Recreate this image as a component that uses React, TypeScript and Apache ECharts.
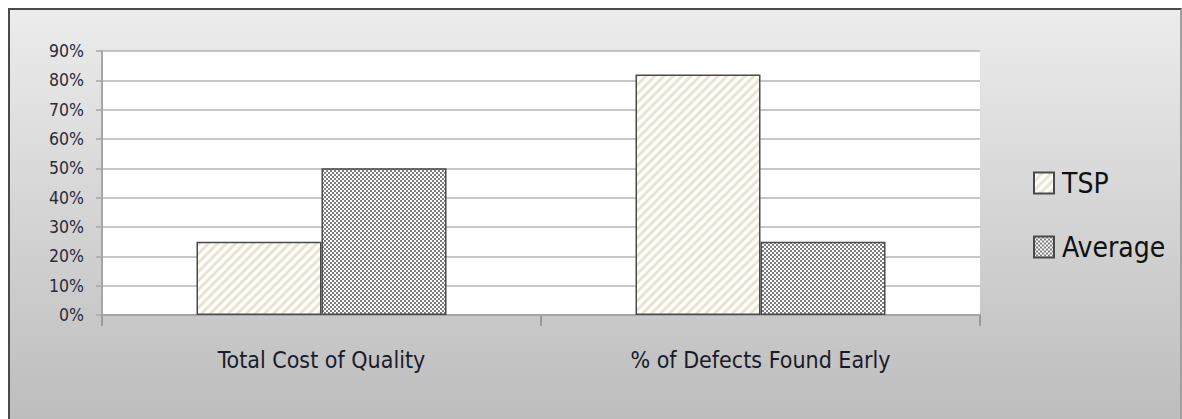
import React, { useEffect, useRef } from "react";
import * as echarts from "echarts";

const categories = ["Total Cost of Quality", "% of Defects Found Early"];
const seriesNames = ["TSP", "Average"];
const tspValues = [25, 82];
const averageValues = [50, 25];
const yMax = 90;
const yInterval = 10;

const FONT = "'Liberation Sans Narrow', 'DejaVu Sans Condensed', 'Arial Narrow', sans-serif";

function makeHatch(): HTMLCanvasElement {
  const c = document.createElement("canvas");
  const s = 9;
  c.width = s;
  c.height = s;
  const ctx = c.getContext("2d")!;
  ctx.fillStyle = "#ffffff";
  ctx.fillRect(0, 0, s, s);
  ctx.strokeStyle = "#e8e4d0";
  ctx.lineWidth = 3;
  for (const off of [-s, 0, s]) {
    ctx.beginPath();
    ctx.moveTo(off - 1, s + 1);
    ctx.lineTo(off + s + 1, -1);
    ctx.stroke();
  }
  return c;
}

function makeChecker(): HTMLCanvasElement {
  const c = document.createElement("canvas");
  c.width = 4;
  c.height = 4;
  const ctx = c.getContext("2d")!;
  ctx.fillStyle = "#ffffff";
  ctx.fillRect(0, 0, 4, 4);
  ctx.fillStyle = "#7c7c7c";
  ctx.fillRect(0, 0, 2, 2);
  ctx.fillRect(2, 2, 2, 2);
  return c;
}

export default function App() {
  const ref = useRef<HTMLDivElement>(null);
  useEffect(() => {
    if (!ref.current) return;
    const chart = echarts.init(ref.current, null, { renderer: "svg" });
    const hatch = makeHatch();
    const checker = makeChecker();
    chart.setOption({
      animation: false,
      backgroundColor: "transparent",
      grid: {
        left: 92,
        top: 41,
        right: 200,
        bottom: 104,
        show: true,
        backgroundColor: "#ffffff",
        borderWidth: 0,
      },
      legend: {
        orient: "vertical",
        left: 1023,
        top: 157,
        padding: 0,
        itemWidth: 20,
        itemHeight: 21,
        itemGap: 32,
        icon: "rect",
        textStyle: {
          fontFamily: FONT,
          fontSize: 28,
          color: "#111111",
          lineHeight: 32,
          padding: [0, 0, 0, 3],
        },
        data: seriesNames,
      },
      xAxis: {
        type: "category",
        data: categories,
        axisLine: { show: true, lineStyle: { color: "#a6a6a6", width: 2 } },
        axisTick: { show: true, length: 11, lineStyle: { color: "#9a9a9a", width: 2 } },
        axisLabel: {
          fontFamily: FONT,
          fontSize: 23,
          color: "#1a1a2a",
          margin: 33,
        },
        splitLine: { show: false },
      },
      yAxis: {
        type: "value",
        min: 0,
        max: yMax,
        interval: yInterval,
        axisLine: { show: true, lineStyle: { color: "#a6a6a6", width: 2 } },
        axisTick: { show: true, length: 6, lineStyle: { color: "#a6a6a6", width: 1.5 } },
        axisLabel: {
          fontFamily: FONT,
          fontSize: 17.5,
          color: "#2a2a3a",
          margin: 18,
          formatter: "{value}%",
        },
        splitLine: { show: true, lineStyle: { color: "#b4b4b4", width: 1.5 } },
      },
      series: [
        {
          name: seriesNames[0],
          type: "bar",
          data: tspValues,
          barWidth: 125,
          barGap: "0%",
          itemStyle: {
            color: { image: hatch, repeat: "repeat" },
            borderColor: "#4a4a4a",
            borderWidth: 1.5,
          },
        },
        {
          name: seriesNames[1],
          type: "bar",
          data: averageValues,
          barWidth: 125,
          barGap: "0%",
          itemStyle: {
            color: { image: checker, repeat: "repeat" },
            borderColor: "#4a4a4a",
            borderWidth: 1.5,
          },
        },
      ],
    });
    return () => chart.dispose();
  }, []);
  return (
    <div
      style={{
        position: "fixed",
        left: 8,
        top: 8,
        width: 1174,
        height: 411,
        boxSizing: "border-box",
        borderTop: "2px solid #4a4a4a",
        borderLeft: "2px solid #4a4a4a",
        borderRight: "2px solid #a0a0a0",
        background: "linear-gradient(to bottom, #ececec, #bdbdbd)",
      }}
    >
      <div ref={ref} style={{ width: 1170, height: 409 }} />
    </div>
  );
}
